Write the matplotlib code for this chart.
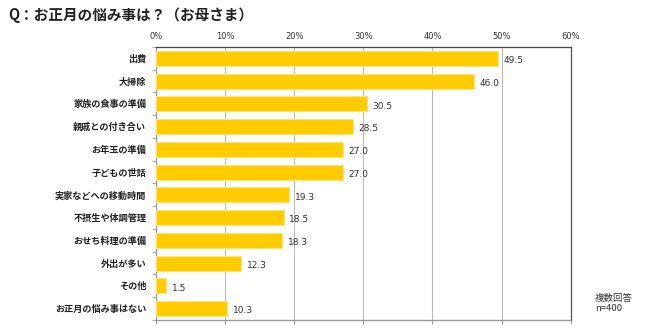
import matplotlib.pyplot as plt
import numpy as np

plt.rcParams['font.family'] = ['Noto Sans CJK JP', 'DejaVu Sans']

# dados
categorias = ['出費', '大掃除', '家族の食事の準備', '親戚との付き合い', 'お年玉の準備',
              '子どもの世話', '実家などへの移動時間', '不摂生や体調管理', 'おせち料理の準備',
              '外出が多い', 'その他', 'お正月の悩み事はない']
valores = [49.5, 46.0, 30.5, 28.5, 27.0, 27.0, 19.3, 18.5, 18.3, 12.3, 1.5, 10.3]
ticks_x = [0, 10, 20, 30, 40, 50, 60]

fig = plt.figure(figsize=(6.5, 3.35), dpi=100)
ax = fig.add_axes([0.24, 0.045, 0.638, 0.815])

y = np.arange(len(categorias))
ax.barh(y, valores, height=0.66, color='#FFCC00', edgecolor='#FFE37A', linewidth=0.8, zorder=3)

for yi, v in zip(y, valores):
    ax.text(v + 0.8, yi + 0.1, f'{v:.1f}', va='center', ha='left', fontsize=6.5,
            color='#333333', family='DejaVu Sans', zorder=4)

ax.set_xlim(0, 60)
ax.set_ylim(len(categorias) - 0.5, -0.5)
ax.set_xticks(ticks_x)
ax.set_xticklabels([f'{t}%' for t in ticks_x], fontsize=6, color='#333333', family='DejaVu Sans')
ax.xaxis.tick_top()
ax.tick_params(axis='x', which='major', length=0, pad=4)
ax.grid(axis='x', color='#BBBBBB', linewidth=0.8, zorder=0)

# rótulos e marcas do eixo y
ax.set_yticks(y)
ax.set_yticklabels(categorias, fontsize=6.6, fontweight='bold', color='#222222')
ax.set_yticks(np.arange(len(categorias) + 1) - 0.5, minor=True)
ax.tick_params(axis='y', which='major', length=0, pad=7)
ax.tick_params(axis='y', which='minor', length=3, color='#999999', direction='out')

# marcas embaixo
sec = ax.secondary_xaxis('bottom')
sec.set_xticks(ticks_x)
sec.set_xticklabels([])
sec.tick_params(length=3, color='#999999')
sec.spines['bottom'].set_color('#999999')

ax.spines['top'].set_color('#444444')
ax.spines['right'].set_color('#555555')
ax.spines['left'].set_color('#999999')
ax.spines['bottom'].set_color('#999999')
for s in ax.spines.values():
    s.set_linewidth(0.9)

fig.text(0.012, 0.955, 'Q：お正月の悩み事は？（お母さま）', fontsize=10.5, fontweight='bold',
         va='center', ha='left', color='#222222')
fig.text(0.915, 0.095, '複数回答\nn=400', fontsize=6.8, va='center', ha='left',
         color='#333333', linespacing=1.1)

plt.savefig('out.png', dpi=100)
